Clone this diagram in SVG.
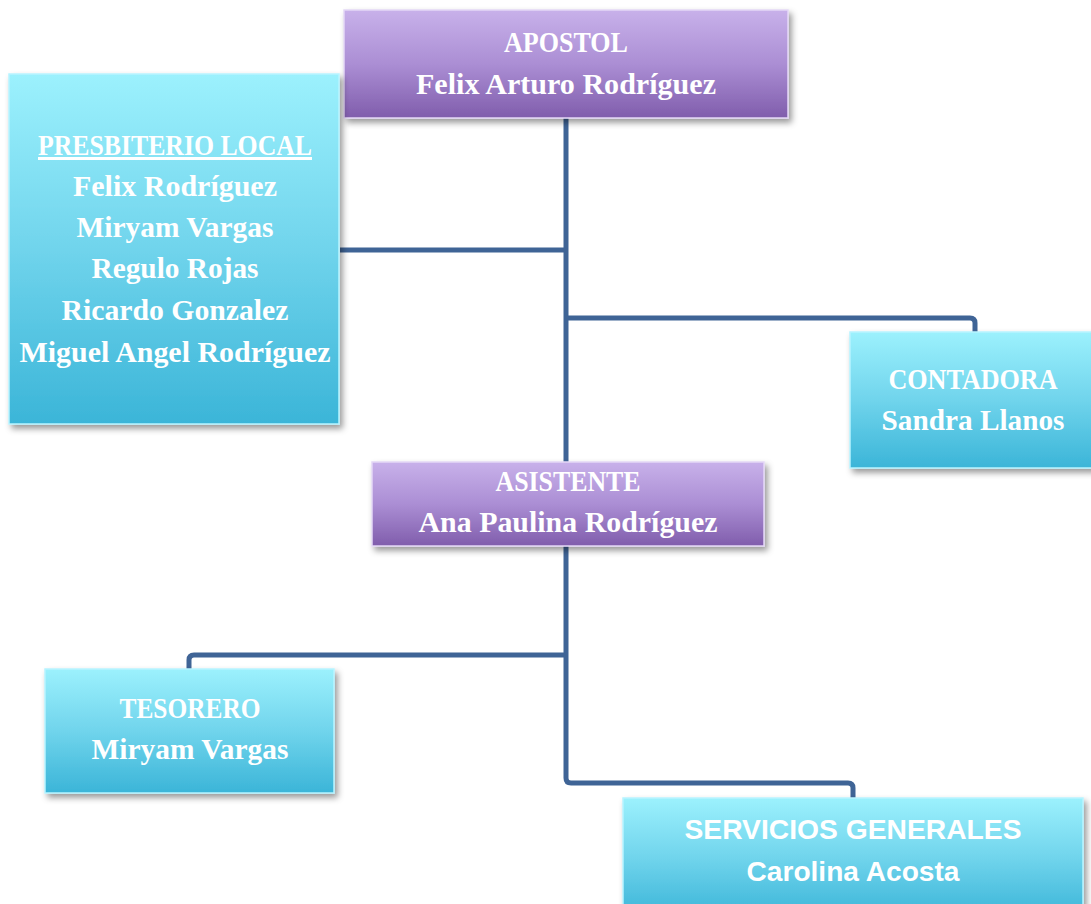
<svg xmlns="http://www.w3.org/2000/svg" width="1091" height="904" viewBox="0 0 1091 904">
<style>
.t{font-family:"Liberation Serif","Times New Roman",serif;font-weight:bold;font-size:30px;fill:#ffffff;text-anchor:middle}
.s{font-family:"Liberation Sans",Arial,sans-serif;font-weight:bold;font-size:28px;fill:#ffffff;text-anchor:middle}
.conn{fill:none;stroke:#3F6496;stroke-width:5;stroke-linejoin:round}
.cyan{fill:url(#gc);stroke:#B8F4FF;stroke-width:1.5}
.purp{fill:url(#gp);stroke:#E4D8F6;stroke-width:1.5}
</style>
<defs>
<linearGradient id="gc" x1="0" y1="0" x2="0" y2="1">
<stop offset="0" stop-color="#9CF1FD"/>
<stop offset="0.5" stop-color="#70D4EC"/>
<stop offset="1" stop-color="#3BB5D8"/>
</linearGradient>
<linearGradient id="gp" x1="0" y1="0" x2="0" y2="1">
<stop offset="0" stop-color="#C8B1EA"/>
<stop offset="0.5" stop-color="#AB8ED4"/>
<stop offset="1" stop-color="#805DAC"/>
</linearGradient>
<filter id="sh" x="-10%" y="-10%" width="125%" height="130%">
<feDropShadow dx="3" dy="4" stdDeviation="3" flood-color="#000" flood-opacity="0.4"/>
</filter>
</defs>
<rect width="1091" height="904" fill="#ffffff"/>
<g id="connectors">
<path class="conn" d="M566 118 V462"/>
<path class="conn" d="M340 250 H566"/>
<path class="conn" d="M566 318 H970 Q975 318 975 323 V333"/>
<path class="conn" d="M566 546 V778 Q566 783 571 783 H848 Q853 783 853 788 V799"/>
<path class="conn" d="M566 655 H194 Q189 655 189 660 V670"/>
</g>
<g id="apostol">
<rect class="purp" x="344" y="10" width="444" height="108" filter="url(#sh)"/>
<text class="t" x="566" y="52" textLength="124" lengthAdjust="spacingAndGlyphs">APOSTOL</text>
<text class="t" x="566" y="94" textLength="300" lengthAdjust="spacingAndGlyphs">Felix Arturo Rodríguez</text>
</g>
<g id="presbiterio">
<rect class="cyan" x="9" y="74" width="330" height="350" filter="url(#sh)"/>
<text class="t" x="175" y="155" textLength="274" lengthAdjust="spacingAndGlyphs" text-decoration="underline">PRESBITERIO LOCAL</text>
<text class="t" x="175" y="196" textLength="204" lengthAdjust="spacingAndGlyphs">Felix Rodríguez</text>
<text class="t" x="175" y="237" textLength="197" lengthAdjust="spacingAndGlyphs">Miryam Vargas</text>
<text class="t" x="175" y="278" textLength="167" lengthAdjust="spacingAndGlyphs">Regulo Rojas</text>
<text class="t" x="175" y="320" textLength="227" lengthAdjust="spacingAndGlyphs">Ricardo Gonzalez</text>
<text class="t" x="175" y="362" textLength="311" lengthAdjust="spacingAndGlyphs">Miguel Angel Rodríguez</text>
</g>
<g id="contadora">
<rect class="cyan" x="850" y="332" width="248" height="136" filter="url(#sh)"/>
<text class="t" x="973" y="389" textLength="169" lengthAdjust="spacingAndGlyphs">CONTADORA</text>
<text class="t" x="973" y="430" textLength="183" lengthAdjust="spacingAndGlyphs">Sandra Llanos</text>
</g>
<g id="asistente">
<rect class="purp" x="372" y="462" width="392" height="84" filter="url(#sh)"/>
<text class="t" x="568" y="491" textLength="145" lengthAdjust="spacingAndGlyphs">ASISTENTE</text>
<text class="t" x="568" y="532" textLength="299" lengthAdjust="spacingAndGlyphs">Ana Paulina Rodríguez</text>
</g>
<g id="tesorero">
<rect class="cyan" x="45" y="669" width="289" height="124" filter="url(#sh)"/>
<text class="t" x="190" y="718" textLength="141" lengthAdjust="spacingAndGlyphs">TESORERO</text>
<text class="t" x="190" y="759" textLength="197" lengthAdjust="spacingAndGlyphs">Miryam Vargas</text>
</g>
<g id="servicios">
<rect class="cyan" x="623" y="798" width="460" height="120" filter="url(#sh)"/>
<text class="s" x="853" y="839" textLength="337" lengthAdjust="spacingAndGlyphs">SERVICIOS GENERALES</text>
<text class="s" x="853" y="881" textLength="213" lengthAdjust="spacingAndGlyphs">Carolina Acosta</text>
</g>
</svg>
